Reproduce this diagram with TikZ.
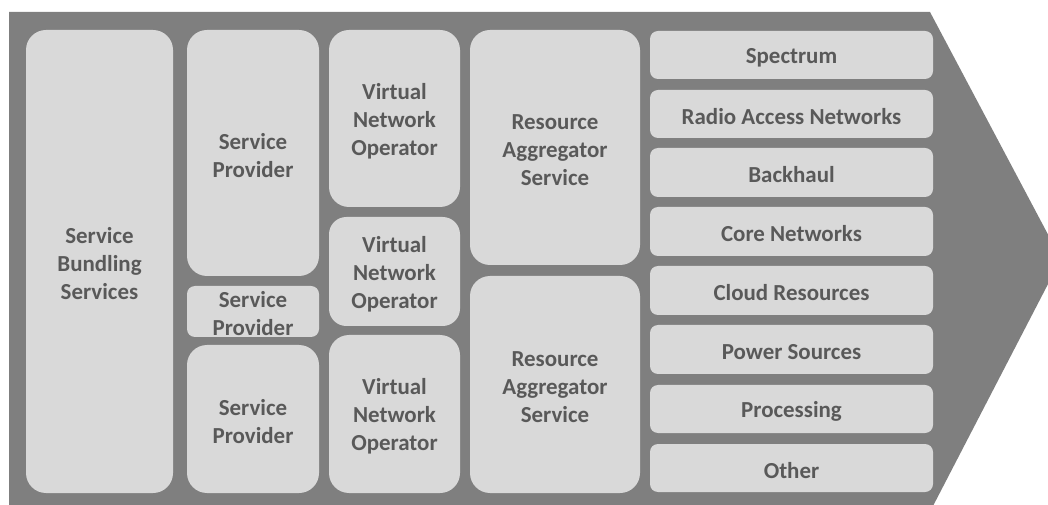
\documentclass[tikz,border=0pt]{standalone}
\usepackage{fontspec}
\setmainfont{Carlito}
\definecolor{bgc}{HTML}{7F7F7F}
\definecolor{boxc}{HTML}{D9D9D9}
\definecolor{txtc}{HTML}{595959}
\tikzset{
  box/.style={fill=boxc, draw=none, inner sep=0pt, outer sep=0pt},
  boxtext/.style={inner sep=0pt, align=center, text=txtc, yshift=-1.8pt,
    font=\fontsize{17.2pt}{21pt}\selectfont\bfseries},
}
% name, x1, y1, x2, y2, radius(pt), text
\newcommand\mybx[7]{%
  \node[box, rounded corners=#6pt,
    minimum width={(#4-#2)*0.75pt}, minimum height={(#5-#3)*0.75pt}]
    (#1) at ({(#2+#4)/2},{(#3+#5)/2}) {};
  \node[boxtext] (#1t) at (#1.center) {#7};}
\begin{document}
\begin{tikzpicture}[x=0.75pt,y=-0.75pt]
\useasboundingbox (0,0) rectangle (1048,505);
\begin{scope}
\clip (0,0) rectangle (1048,505);
\fill[bgc] (9,12) -- (930,12) -- (1061,259) -- (933,506) -- (9,506) -- cycle;
\end{scope}
\mybx{sbs}{26}{30}{173}{493}{15}{Service\\Bundling\\Services}
\mybx{spa}{187}{30}{319}{276}{15}{Service\\Provider}
\mybx{spb}{187}{286}{319}{337}{6}{Service\\Provider}
\mybx{spc}{187}{345}{319}{493}{15}{Service\\Provider}
\mybx{vna}{329}{30}{460}{207}{15}{Virtual\\Network\\Operator}
\mybx{vnb}{329}{217}{460}{326}{13}{Virtual\\Network\\Operator}
\mybx{vnc}{329}{335}{460}{493}{15}{Virtual\\Network\\Operator}
\mybx{rasa}{470}{30}{640}{265}{15}{Resource\\Aggregator\\Service}
\mybx{rasb}{470}{276}{640}{493}{15}{Resource\\Aggregator\\Service}
\mybx{r1}{650}{31}{933}{79}{6}{Spectrum}
\mybx{r2}{650}{90}{933}{138}{6}{Radio Access Networks}
\mybx{r3}{650}{148}{933}{197}{6}{Backhaul}
\mybx{r4}{650}{207}{933}{256}{6}{Core Networks}
\mybx{r5}{650}{266}{933}{315}{6}{Cloud Resources}
\mybx{r6}{650}{325}{933}{374}{6}{Power Sources}
\mybx{r7}{650}{385}{933}{433}{6}{Processing}
\mybx{r8}{650}{444}{933}{492}{6}{Other}
\end{tikzpicture}
\end{document}
